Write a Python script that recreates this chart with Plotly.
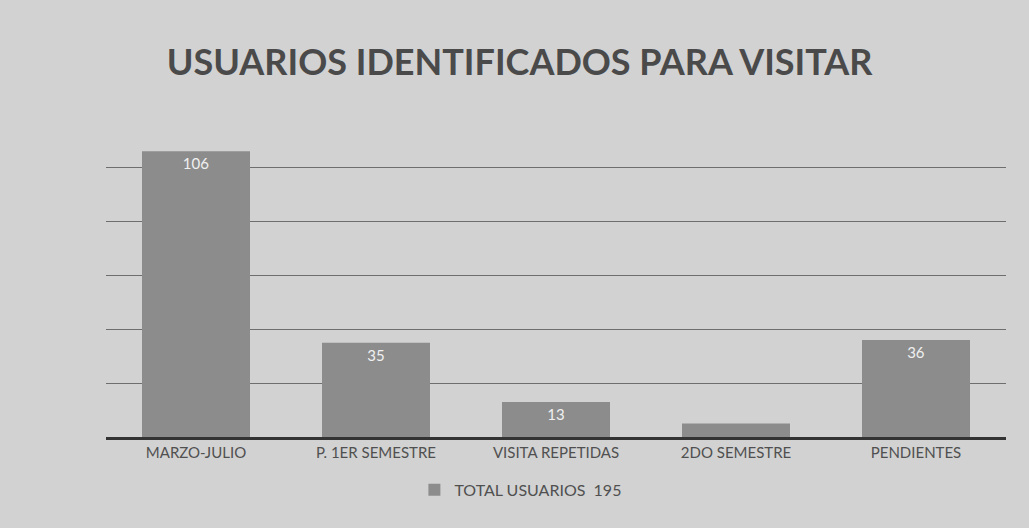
import plotly.graph_objects as go

categories = ["MARZO-JULIO", "P. 1ER SEMESTRE", "VISITA REPETIDAS", "2DO SEMESTRE", "PENDIENTES"]
values = [106, 35, 13, 5, 36]
value_labels = ["106", "35", "13", "", "36"]
series_name = "TOTAL USUARIOS  195"
title_text = "USUARIOS IDENTIFICADOS PARA VISITAR"

fig = go.Figure()
fig.add_trace(go.Bar(
    x=categories, y=values, name=series_name,
    text=value_labels, textposition="inside", insidetextanchor="end",
    textfont=dict(family="Lato, Open Sans, sans-serif", size=15, color="#f0f0f0"),
    marker=dict(color="#8c8c8c", line=dict(width=0)),
    showlegend=True,
))

fig.update_layout(
    width=1029, height=528,
    paper_bgcolor="#d2d2d2", plot_bgcolor="#d2d2d2",
    margin=dict(l=106, r=23, t=135, b=91),
    bargap=0.4,
    title=dict(text="<b>" + title_text + "</b>", x=0.505, xanchor="center", y=0.882, yanchor="middle",
               font=dict(family="Lato, Open Sans, sans-serif", size=36, color="#4a4a4a")),
    xaxis=dict(showline=True, linecolor="#333333", linewidth=3, ticks="",
               tickfont=dict(family="Lato, Open Sans, sans-serif", size=15, color="#505050")),
    yaxis=dict(range=[0, 112], dtick=20, showticklabels=False, showgrid=True,
               gridcolor="#6e6e6e", gridwidth=1.2, zeroline=False),
    legend=dict(orientation="h", x=0.461, xanchor="center", y=-0.175, yanchor="middle",
                font=dict(family="Lato, Open Sans, sans-serif", size=16, color="#505050"),
                itemwidth=30, bgcolor="rgba(0,0,0,0)"),
)

fig.write_html("out.html", config={"displayModeBar": False},
               post_script="document.body.style.margin='0';document.body.style.overflow='hidden';")
